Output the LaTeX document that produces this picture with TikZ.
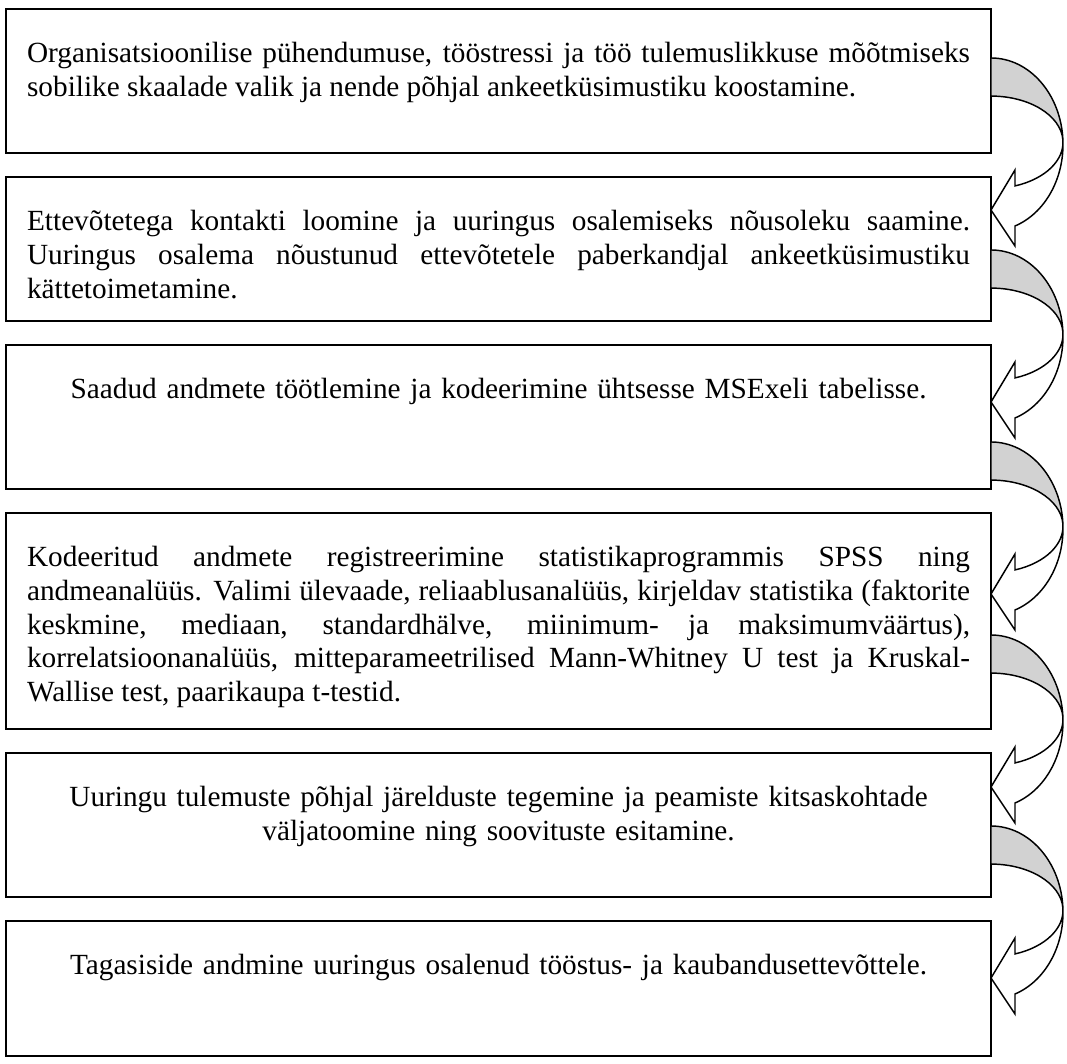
\documentclass[tikz,border=0pt]{standalone}
\usepackage{fontspec}
\setmainfont{Liberation Serif}
\usetikzlibrary{positioning,calc}
\tolerance=10000
\hbadness=10000

\tikzset{
  stage/.style={draw,line width=0.8pt,minimum width=403.9pt,minimum height=59.04pt,inner sep=0pt,outer sep=0pt},
  txt/.style={text width=386.6pt,inner sep=0pt,anchor=base,align=justify,font=\fontsize{12pt}{13.8pt}\selectfont},
  ctxt/.style={txt,align=center},
  backband/.style={draw,line width=0.6pt,fill=gray!35},
  frontarrow/.style={draw,line width=0.6pt,fill=white,line join=miter},
}

\begin{document}
\begin{tikzpicture}[x=0.41pt,y=0.41pt,node distance=9.84pt]
  \useasboundingbox (0,0) rectangle (1067,1064);
  \node[stage,anchor=north west] (valik) at (6,1055) {};
  \node[stage] (kontakt) [below = of valik] {};
  \node[stage] (kodeerimine) [below = of kontakt] {};
  \node[stage,minimum height=88.56pt] (analyys) [below = of kodeerimine] {};
  \node[stage] (jareldused) [below = of analyys] {};
  \node[stage,minimum height=55.35pt] (tagasiside) [below = of jareldused] {};

  \node[txt] (valiktxt) at ([yshift=-22.14pt]valik.north) {Organisatsioonilise pühendumuse, tööstressi ja töö tulemuslikkuse mõõtmiseks\linebreak sobilike skaalade valik ja nende põhjal ankeetküsimustiku koostamine.};
  \node[txt] (kontakttxt) at ([yshift=-22.14pt]kontakt.north) {Ettevõtetega kontakti loomine ja uuringus osalemiseks nõusoleku saamine.\linebreak Uuringus osalema nõustunud ettevõtetele paberkandjal ankeetküsimustiku\linebreak kättetoimetamine.};
  \node[ctxt] (kodeerimistxt) at ([yshift=-22.14pt]kodeerimine.north) {Saadud andmete töötlemine ja kodeerimine ühtsesse MSExeli tabelisse.};
  \node[txt] (analyystxt) at ([yshift=-22.14pt]analyys.north) {Kodeeritud andmete registreerimine statistikaprogrammis SPSS ning\linebreak andmeanalüüs. Valimi ülevaade, reliaablusanalüüs, kirjeldav statistika (faktorite\linebreak keskmine, mediaan, standardhälve, miinimum- ja maksimumväärtus),\linebreak korrelatsioonanalüüs, mitteparameetrilised Mann-Whitney U test ja Kruskal-\linebreak Wallise test, paarikaupa t-testid.};
  \node[ctxt] (jareldustxt) at ([yshift=-22.14pt]jareldused.north) {Uuringu tulemuste põhjal järelduste tegemine ja peamiste kitsaskohtade\\ väljatoomine ning soovituste esitamine.};
  \node[ctxt] (tagasisidetxt) at ([yshift=-22.14pt]tagasiside.north) {Tagasiside andmine uuringus osalenud tööstus- ja kaubandusettevõttele.};

  % curved arrows on the right side
  \foreach \ya in {1006,814,622,429,238}{
    \begin{scope}[shift={(991,\ya)}]
      \path[backband] (0,0) arc[start angle=90,end angle=3,x radius=72,y radius=86.5]
        arc[start angle=3,end angle=90,x radius=72,y radius=46.3] -- cycle;
      \path[frontarrow] ($(0,-84.3)+(3:72 and 46.3)$)
        arc[start angle=3,end angle=-70.53,x radius=72,y radius=46.3]
        -- (24,-112) -- (0,-152) -- (24,-188) -- (24,-168)
        arc[start angle=-70.53,end angle=3,x radius=72,y radius=86.5] -- cycle;
    \end{scope}
  }
\end{tikzpicture}
\end{document}
